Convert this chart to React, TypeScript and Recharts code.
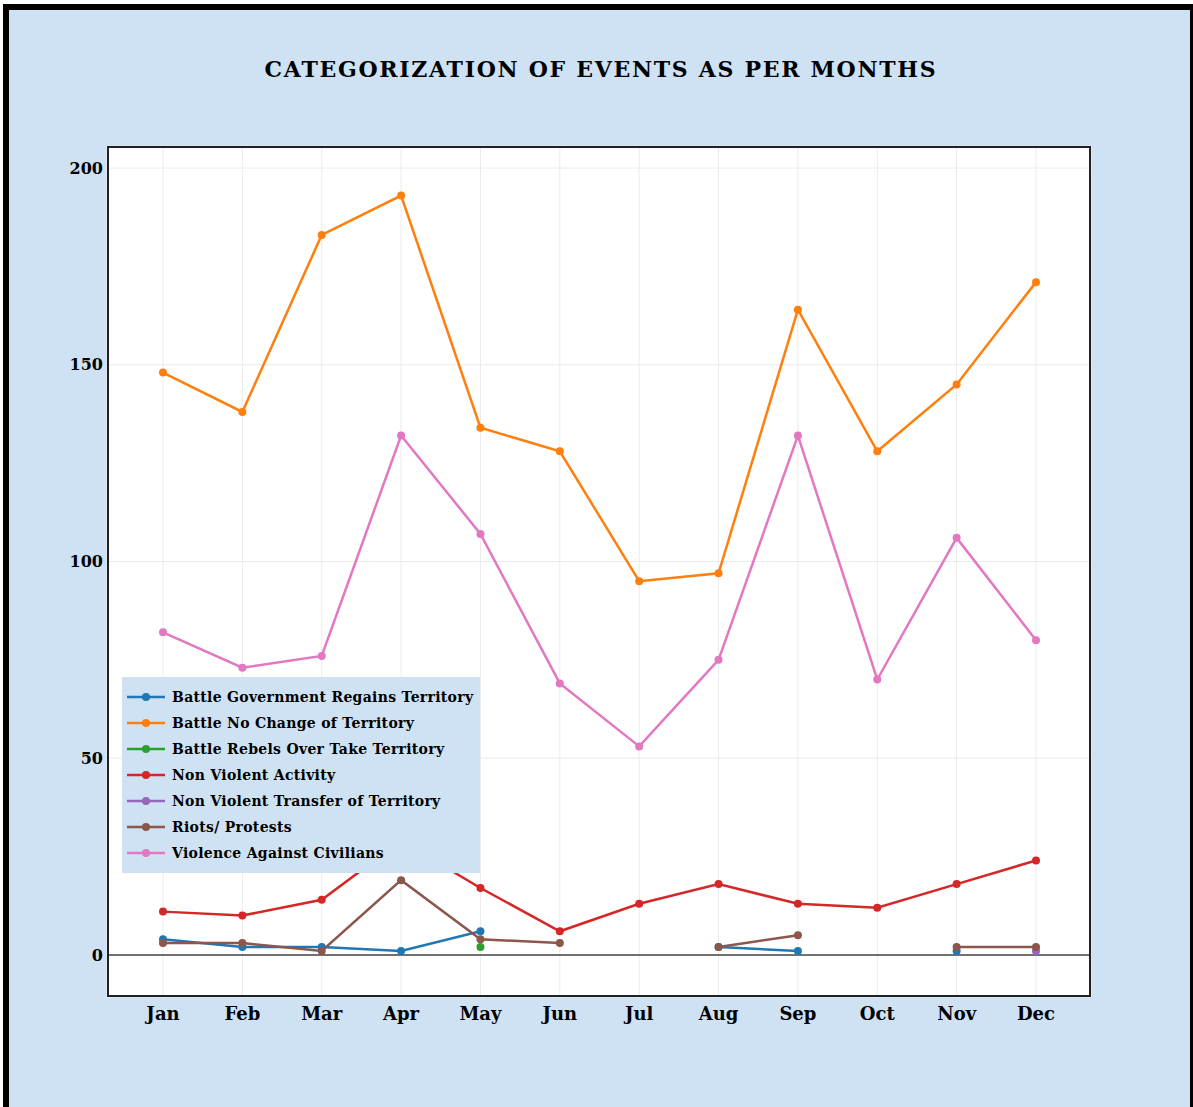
import React from "react";
import {
  LineChart,
  Line,
  XAxis,
  YAxis,
  CartesianGrid,
  ReferenceLine,
  Legend,
} from "recharts";

const months = ["Jan", "Feb", "Mar", "Apr", "May", "Jun", "Jul", "Aug", "Sep", "Oct", "Nov", "Dec"];

const govRegains = [4, 2, 2, 1, 6, null, null, 2, 1, null, 1, null];
const noChange = [148, 138, 183, 193, 134, 128, 95, 97, 164, 128, 145, 171];
const rebelsTake = [null, null, null, null, 2, null, null, null, null, null, null, null];
const nonViolent = [11, 10, 14, 29, 17, 6, 13, 18, 13, 12, 18, 24];
const nonViolentTransfer = [null, null, null, null, null, null, null, null, null, null, null, 1];
const riots = [3, 3, 1, 19, 4, 3, null, 2, 5, null, 2, 2];
const civilians = [82, 73, 76, 132, 107, 69, 53, 75, 132, 70, 106, 80];

const yTicks = [0, 50, 100, 150, 200];

const series = [
  { key: "gov", name: "Battle Government Regains Territory", color: "#1f77b4", values: govRegains },
  { key: "nochange", name: "Battle No Change of Territory", color: "#ff7f0e", values: noChange },
  { key: "rebels", name: "Battle Rebels Over Take Territory", color: "#2ca02c", values: rebelsTake },
  { key: "nonviolent", name: "Non Violent Activity", color: "#d62728", values: nonViolent },
  { key: "transfer", name: "Non Violent Transfer of Territory", color: "#9467bd", values: nonViolentTransfer },
  { key: "riots", name: "Riots/ Protests", color: "#8c564b", values: riots },
  { key: "civilians", name: "Violence Against Civilians", color: "#e377c2", values: civilians },
];

const data = months.map((m, i) => {
  const row: Record<string, string | number | null> = { month: m };
  series.forEach((s) => {
    row[s.key] = s.values[i];
  });
  return row;
});

const font = "'DejaVu Serif', serif";

const LegendBox = () => (
  <div
    style={{
      background: "#cfe2f3",
      width: 358,
      height: 196,
      boxSizing: "border-box",
      paddingTop: 7,
      fontFamily: font,
      fontWeight: 700,
      fontSize: 14,
      letterSpacing: 0.3,
      color: "#000",
    }}
  >
    {series.map((s) => (
      <div key={s.key} style={{ display: "flex", alignItems: "center", height: 26 }}>
        <svg width={50} height={10} style={{ flex: "none" }}>
          <line x1={5} y1={5} x2={43} y2={5} stroke={s.color} strokeWidth={2.5} />
          <circle cx={24} cy={5} r={4} fill={s.color} />
        </svg>
        <span style={{ whiteSpace: "nowrap" }}>{s.name}</span>
      </div>
    ))}
  </div>
);

export default function App() {
  return (
    <div
      style={{
        position: "absolute",
        left: 0,
        top: 0,
        width: 1193,
        height: 1107,
        overflow: "hidden",
      }}
    >
      <div
        style={{
          position: "absolute",
          left: 3,
          top: 4,
          width: 1190,
          height: 1103,
          boxSizing: "border-box",
          borderLeft: "6px solid #000",
          borderTop: "6px solid #000",
          borderRight: "3px solid #000",
          background: "#cfe2f3",
        }}
      />
      <div
        style={{
          position: "absolute",
          left: 0,
          top: 56,
          width: 1202,
          textAlign: "center",
          fontFamily: font,
          fontWeight: 700,
          fontSize: 22,
          letterSpacing: 1.7,
          color: "#000",
        }}
      >
        CATEGORIZATION OF EVENTS AS PER MONTHS
      </div>
      <div style={{ position: "absolute", left: 0, top: 0 }}>
        <LineChart
          width={1193}
          height={1107}
          data={data}
          margin={{ top: 146, right: 102, bottom: 70, left: 47 }}
        >
          <CartesianGrid stroke="#ebebeb" fill="#fff" />
          <XAxis
            dataKey="month"
            scale="point"
            padding={{ left: 56, right: 55 }}
            height={40}
            tickLine={false}
            axisLine={false}
            tickSize={0}
            tickMargin={10}
            tick={{ fill: "#000", fontFamily: font, fontWeight: 700, fontSize: 18 }}
          />
          <YAxis
            width={60}
            domain={[-10.7, 205.6]}
            ticks={yTicks}
            tickLine={false}
            axisLine={false}
            tickSize={0}
            tickMargin={4}
            tick={{ fill: "#000", fontFamily: font, fontWeight: 700, fontSize: 16 }}
          />
          <ReferenceLine y={0} stroke="#444" strokeWidth={1.5} />
          {series.map((s) => (
            <Line
              key={s.key}
              dataKey={s.key}
              name={s.name}
              stroke={s.color}
              strokeWidth={2.5}
              dot={{ r: 4, fill: s.color, stroke: s.color, strokeWidth: 0 }}
              activeDot={false}
              connectNulls={false}
              isAnimationActive={false}
            />
          ))}
          <Legend
            layout="vertical"
            align="center"
            verticalAlign="middle"
            content={() => <LegendBox />}
            wrapperStyle={{ position: "absolute", left: 122, top: 677, width: 358, height: 196 }}
          />
        </LineChart>
      </div>
      <div
        style={{
          position: "absolute",
          left: 107,
          top: 146,
          width: 984,
          height: 851,
          boxSizing: "border-box",
          border: "2px solid #222",
          pointerEvents: "none",
        }}
      />
    </div>
  );
}
